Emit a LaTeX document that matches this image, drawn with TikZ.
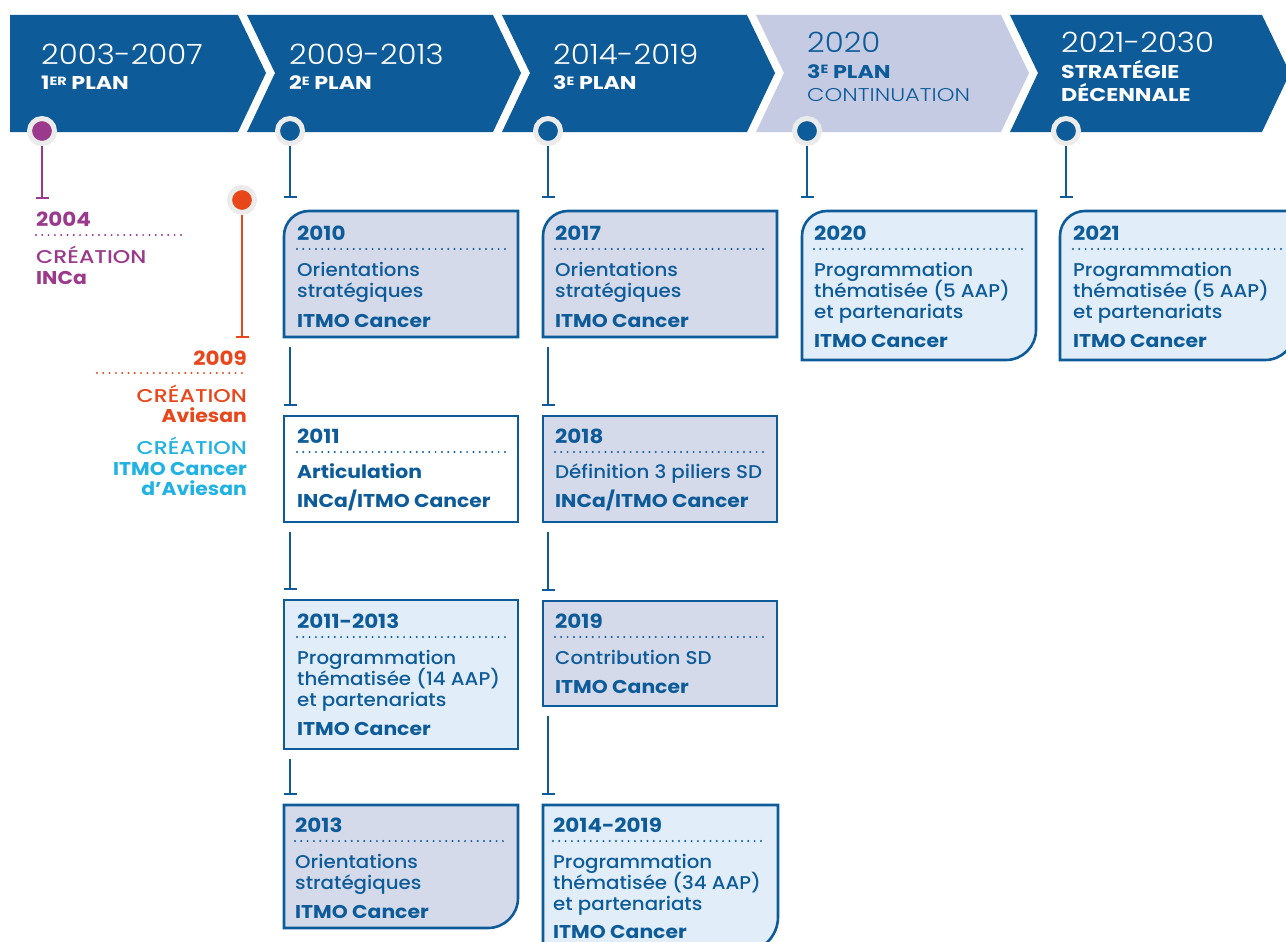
\documentclass[tikz,border=0pt]{standalone}
\usepackage{fontspec}
\setmainfont{Poppins}
\IfFontExistsTF{Poppins Light}{\newfontfamily\lightfont[FakeStretch=1.1]{Poppins Light}\newfontfamily\lightcaps[FakeStretch=1.22]{Poppins Light}}{\newfontfamily\lightfont[FakeStretch=1.1]{Poppins}\newfontfamily\lightcaps[FakeStretch=1.22]{Poppins}}
\IfFontExistsTF{Poppins Medium}{\newfontfamily\medf[FakeStretch=1.07]{Poppins Medium}\newfontfamily\medcaps[FakeStretch=1.2]{Poppins Medium}}{\newfontfamily\medf[FakeStretch=1.07]{Poppins}\newfontfamily\medcaps[FakeStretch=1.2]{Poppins}}
\newfontfamily\boldf[FakeStretch=1.1,UprightFont={* Bold}]{Poppins}
\newfontfamily\boldcaps[FakeStretch=1.2,UprightFont={* Bold}]{Poppins}
\usetikzlibrary{arrows.meta,fit}
\definecolor{dblue}{HTML}{0E5B9A}
\definecolor{lav}{HTML}{D5DAEA}
\definecolor{lblue}{HTML}{E1EEF9}
\definecolor{hlav}{HTML}{C6CBE4}
\definecolor{purp}{HTML}{9B3A8C}
\definecolor{orng}{HTML}{E8461B}
\definecolor{cyantxt}{HTML}{1FB2E3}
\definecolor{ringgrey}{HTML}{EBEBEB}
\newcommand{\sups}[1]{\raisebox{5pt}{\fontsize{12}{12}\selectfont #1}}
% #1 name, #2 x0, #3 y0, #4 x1, #5 y1, #6 top-left radius, #7 bottom-right radius, #8 fill
\newcommand{\cardbox}[8]{%
  \path[boxline, fill=#8] ({#2},{#3+#6}) .. controls ({#2},{#3+0.448*#6}) and ({#2+0.448*#6},{#3}) .. ({#2+#6},{#3})
    -- ({#4},{#3}) -- ({#4},{#5-#7}) .. controls ({#4},{#5-0.448*#7}) and ({#4-0.448*#7},{#5}) .. ({#4-#7},{#5})
    -- ({#2},{#5}) -- cycle;
  \node[fit={({#2},{#3}) ({#4},{#5})}, inner sep=0pt, outer sep=0pt] (#1) {};
}
\begin{document}
\begin{tikzpicture}[x=1pt,y=-1pt,
  boxline/.style={draw=dblue, line width=2.6pt},
  yr/.style={font=\lightfont\fontsize{28}{28}\selectfont, text=white, anchor=base west, inner sep=0pt},
  pl/.style={font=\boldcaps\fontsize{18.5}{18.5}\selectfont, text=white, anchor=base west, inner sep=0pt},
  plr/.style={font=\lightcaps\fontsize{18.5}{18.5}\selectfont, text=dblue, anchor=base west, inner sep=0pt},
  bt/.style={font=\boldf\fontsize{18.5}{18.5}\selectfont, text=dblue, anchor=base west, inner sep=0pt},
  by/.style={font=\boldf\fontsize{19.5}{19.5}\selectfont, text=dblue, anchor=base west, inner sep=0pt},
  tx/.style={font=\medf\fontsize{18.5}{18.5}\selectfont, text=dblue, anchor=base west, inner sep=0pt},
  cx/.style={font=\medcaps\fontsize{18.5}{18.5}\selectfont, anchor=base west, inner sep=0pt},
  dotline/.style={line width=2.2pt, line cap=round, dash pattern=on 0pt off 6.3pt},
  conn/.style={draw=dblue, line width=2.5pt, -{Bar[width=13pt]}},
  pin/.style={circle, draw=ringgrey, line width=5pt, minimum size=25pt, inner sep=0pt},
  chev/.style={fill=dblue}
]
\useasboundingbox (0,0) rectangle (1286,942);
\clip (0,0) rectangle (1286,942);
\fill[white] (0,0) rectangle (1286,942);

% header chevrons
\fill[chev] (10,15) -- (238,15) -- (266,73) -- (238,132) -- (10,132) -- cycle;
\fill[chev] (247,15) -- (493,15) -- (521,73) -- (493,132) -- (247,132) -- (275,73) -- cycle;
\fill[chev] (502,15) -- (747,15) -- (775,73) -- (747,132) -- (502,132) -- (530,73) -- cycle;
\fill[hlav] (756,15) -- (1001,15) -- (1029,73) -- (1001,132) -- (756,132) -- (784,73) -- cycle;
\fill[chev] (1010,15) -- (1262,15) -- (1290,73) -- (1262,132) -- (1010,132) -- (1038,73) -- cycle;

\node[yr] (h1y) at (41,65) {2003-2007};
\node[pl] (h1p) at (41,90) {1\sups{ER} PLAN};
\node[yr] (h2y) at (289,65) {2009-2013};
\node[pl] (h2p) at (289,90) {2\sups{E} PLAN};
\node[yr] (h3y) at (553,65) {2014-2019};
\node[pl] (h3p) at (553,90) {3\sups{E} PLAN};
\node[yr, text=dblue] (h4y) at (807,53) {2020};
\node[pl, text=dblue] (h4p) at (807,78) {3\sups{E} PLAN};
\node[plr] (h4c) at (807,102) {CONTINUATION};
\node[yr] (h5y) at (1061,53) {2021-2030};
\node[pl] (h5p) at (1061,78) {STRATÉGIE};
\node[pl] (h5d) at (1061,102) {DÉCENNALE};

% pins
\node[pin, fill=purp] (d1) at (42,131) {};
\node[pin, fill=dblue] (d2) at (290,131) {};
\node[pin, fill=dblue] (d3) at (548,131) {};
\node[pin, fill=dblue] (d4) at (807,131) {};
\node[pin, fill=dblue] (d5) at (1066,131) {};
\node[pin, fill=orng] (d0) at (242,200) {};
\coordinate (e1) at (42,199);
\coordinate (e0) at (242,338);
\draw[conn, draw=purp] (d1) -- (e1);
\draw[conn, draw=orng] (d0) -- (e0);

% left texts
\node[by, text=purp] (t2004) at (36,226) {2004};
\draw[dotline, purp] (36,235) -- (187,235);
\node[cx, text=purp] (c2004) at (36,263) {CRÉATION};
\node[bt, text=purp] (i2004) at (36,284) {INCa};

\node[by, text=orng, anchor=base east] (t2009) at (247,365) {2009};
\draw[dotline, orng] (97,373) -- (247,373);
\node[cx, text=orng, anchor=base east] (c2009) at (247,402) {CRÉATION};
\node[bt, text=orng, anchor=base east] (a2009) at (247,422) {Aviesan};
\node[cx, text=cyantxt, anchor=base east] (c2009b) at (247,454) {CRÉATION};
\node[bt, text=cyantxt, anchor=base east] (i2009b) at (247,475) {ITMO Cancer};
\node[bt, text=cyantxt, anchor=base east] (a2009b) at (247,495) {d’Aviesan};

% column 1 boxes
\cardbox{b2010}{284}{211}{518}{337}{25}{0}{lav}
\node[by] (b2010t) at (297,240) {2010};
\draw[dotline, dblue] (297,249) -- (505,249);
\node[tx] (b2010a) at (297,276) {Orientations};
\node[tx] (b2010b) at (297,297) {stratégiques};
\node[bt] (b2010c) at (297,327) {ITMO Cancer};

\cardbox{b2011}{284}{416}{518}{522}{0}{0}{white}
\node[by] (b2011t) at (297,443) {2011};
\draw[dotline, dblue] (297,452) -- (505,452);
\node[bt] (b2011a) at (297,478) {Articulation};
\node[bt] (b2011b) at (297,507) {INCa/ITMO Cancer};

\cardbox{b2011x}{284}{600}{518}{749}{0}{0}{lblue}
\node[by] (b2011xt) at (297,628) {2011-2013};
\draw[dotline, dblue] (297,637) -- (505,637);
\node[tx] (b2011xa) at (297,664) {Programmation};
\node[tx] (b2011xb) at (297,685) {thématisée (14 AAP)};
\node[tx] (b2011xc) at (297,706) {et partenariats};
\node[bt] (b2011xd) at (297,735) {ITMO Cancer};

\cardbox{b2013}{284}{805}{518}{928}{0}{30}{lav}
\node[by] (b2013t) at (295,832) {2013};
\draw[dotline, dblue] (295,841) -- (505,841);
\node[tx] (b2013a) at (295,868) {Orientations};
\node[tx] (b2013b) at (295,889) {stratégiques};
\node[bt] (b2013c) at (295,918) {ITMO Cancer};

% column 2 boxes
\cardbox{b2017}{543}{211}{777}{337}{25}{0}{lav}
\node[by] (b2017t) at (555,240) {2017};
\draw[dotline, dblue] (555,249) -- (764,249);
\node[tx] (b2017a) at (555,276) {Orientations};
\node[tx] (b2017b) at (555,297) {stratégiques};
\node[bt] (b2017c) at (555,327) {ITMO Cancer};

\cardbox{b2018}{543}{416}{777}{522}{0}{0}{lav}
\node[by] (b2018t) at (555,443) {2018};
\draw[dotline, dblue] (555,452) -- (764,452);
\node[tx] (b2018a) at (555,478) {Définition 3 piliers SD};
\node[bt] (b2018b) at (555,507) {INCa/ITMO Cancer};

\cardbox{b2019}{543}{601}{777}{706}{0}{0}{lav}
\node[by] (b2019t) at (555,628) {2019};
\draw[dotline, dblue] (555,637) -- (764,637);
\node[tx] (b2019a) at (555,664) {Contribution SD};
\node[bt] (b2019b) at (555,693) {ITMO Cancer};

\cardbox{b2014}{543}{805}{778}{952}{0}{35}{lblue}
\node[by] (b2014t) at (553,832) {2014-2019};
\draw[dotline, dblue] (553,841) -- (766,841);
\node[tx] (b2014a) at (553,868) {Programmation};
\node[tx] (b2014b) at (553,889) {thématisée (34 AAP)};
\node[tx] (b2014c) at (553,910) {et partenariats};
\node[bt] (b2014d) at (553,938) {ITMO Cancer};

% column 3 and 4 boxes
\cardbox{b2020}{802}{211}{1036}{360}{25}{30}{lblue}
\node[by] (b2020t) at (814,240) {2020};
\draw[dotline, dblue] (814,249) -- (1022,249);
\node[tx] (b2020a) at (814,276) {Programmation};
\node[tx] (b2020b) at (814,297) {thématisée (5 AAP)};
\node[tx] (b2020c) at (814,318) {et partenariats};
\node[bt] (b2020d) at (814,347) {ITMO Cancer};

\cardbox{b2021}{1060}{211}{1295}{360}{25}{30}{lblue}
\node[by] (b2021t) at (1073,240) {2021};
\draw[dotline, dblue] (1073,249) -- (1281,249);
\node[tx] (b2021a) at (1073,276) {Programmation};
\node[tx] (b2021b) at (1073,297) {thématisée (5 AAP)};
\node[tx] (b2021c) at (1073,318) {et partenariats};
\node[bt] (b2021d) at (1073,347) {ITMO Cancer};

% connectors
\draw[conn, shorten >=13pt] (d2) -- (d2 |- b2010.north);
\draw[conn, shorten >=13pt] (d3) -- (d3 |- b2017.north);
\draw[conn, shorten >=13pt] (d4) -- (d4 |- b2020.north);
\draw[conn, shorten >=13pt] (d5) -- (d5 |- b2021.north);
\draw[conn, shorten <=10pt, shorten >=10pt] (b2010.south -| d2) -- (b2011.north -| d2);
\draw[conn, shorten <=10pt, shorten >=10pt] (b2011.south -| d2) -- (b2011x.north -| d2);
\draw[conn, shorten <=10pt, shorten >=10pt] (b2011x.south -| d2) -- (b2013.north -| d2);
\draw[conn, shorten <=10pt, shorten >=10pt] (b2017.south -| d3) -- (b2018.north -| d3);
\draw[conn, shorten <=10pt, shorten >=10pt] (b2018.south -| d3) -- (b2019.north -| d3);
\draw[conn, shorten <=10pt, shorten >=10pt] (b2019.south -| d3) -- (b2014.north -| d3);
\end{tikzpicture}
\end{document}
